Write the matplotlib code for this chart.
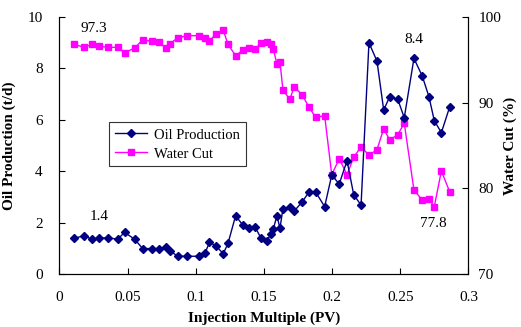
import matplotlib
matplotlib.use('Agg')
import matplotlib.pyplot as plt

plt.rcParams['font.family'] = ['Liberation Serif', 'DejaVu Serif']

pv = [0.0110, 0.0178, 0.0240, 0.0290, 0.0358, 0.0427, 0.0477, 0.0552, 0.0610, 0.0676,
      0.0732, 0.0779, 0.0807, 0.0868, 0.0937, 0.1023, 0.1069, 0.1100, 0.1147, 0.1201,
      0.1236, 0.1292, 0.1346, 0.1390, 0.1436, 0.1478, 0.1520, 0.1548, 0.1568, 0.1595,
      0.1617, 0.1639, 0.1689, 0.1722, 0.1781, 0.1830, 0.1879, 0.1945, 0.1997, 0.2052,
      0.2109, 0.2158, 0.2212, 0.2270, 0.2329, 0.2378, 0.2422, 0.2481, 0.2529, 0.2600,
      0.2661, 0.2710, 0.2749, 0.2801, 0.2862]

oil = [1.39, 1.49, 1.35, 1.39, 1.41, 1.35, 1.62, 1.35, 0.99, 0.99,
       0.99, 1.06, 0.91, 0.69, 0.69, 0.69, 0.83, 1.23, 1.10, 0.79,
       1.19, 2.27, 1.89, 1.79, 1.82, 1.39, 1.27, 1.54, 1.74, 2.27,
       1.78, 2.54, 2.62, 2.45, 2.81, 3.19, 3.19, 2.62, 3.85, 3.50,
       4.41, 3.09, 2.68, 9.00, 8.28, 6.38, 6.90, 6.80, 6.08, 8.39,
       7.70, 6.90, 5.97, 5.50, 6.50]

water_cut = [96.81, 96.46, 96.81, 96.58, 96.46, 96.46, 95.83, 96.38, 97.35, 97.16,
             97.04, 96.38, 96.85, 97.58, 97.82, 97.82, 97.51, 97.23, 97.98, 98.48,
             96.81, 95.48, 96.15, 96.38, 96.30, 96.93, 97.12, 96.81, 96.30, 94.51,
             94.78, 91.48, 90.39, 91.86, 90.89, 89.46, 88.29, 88.48, 81.59, 83.46,
             81.59, 83.62, 84.86, 83.86, 84.51, 86.96, 85.64, 86.26, 87.59, 79.80,
             78.64, 78.75, 77.86, 82.02, 79.61]

fig = plt.figure(figsize=(5.21, 3.27), dpi=100)
ax = fig.add_axes([0.1142, 0.1621, 0.785, 0.7859])
ax2 = ax.twinx()

l1, = ax.plot(pv, oil, color='#000080', marker='D', markersize=3.8, lw=1, label='Oil Production')
l2, = ax2.plot(pv, water_cut, color='#FF00FF', marker='s', markersize=4.2, lw=1, label='Water Cut')
ax.set_zorder(ax2.get_zorder() + 1)
ax.patch.set_visible(False)

ax.set_xlim(0, 0.3)
ax.set_ylim(0, 10)
ax2.set_ylim(70, 100)
ax.set_xticks([0, 0.05, 0.1, 0.15, 0.2, 0.25, 0.3])
ax.set_xticklabels(['0', '0.05', '0.1', '0.15', '0.2', '0.25', '0.3'])
ax.set_yticks([0, 2, 4, 6, 8, 10])
ax2.set_yticks([70, 80, 90, 100])

for a in (ax, ax2):
    a.spines['top'].set_visible(False)
    a.tick_params(direction='in', length=4, width=0.8, labelsize=11)
ax.tick_params(axis='x', pad=12)
ax.tick_params(axis='y', pad=12)
ax2.tick_params(axis='y', pad=7)

ax.set_xlabel('Injection Multiple (PV)', fontsize=11, fontweight='bold', labelpad=6)
ax.set_ylabel('Oil Production (t/d)', fontsize=11, fontweight='bold', labelpad=8)
ax2.set_ylabel('Water Cut (%)', fontsize=11, fontweight='bold', rotation=90, labelpad=2)

ax.text(0.0255, 9.56, '97.3', fontsize=11, ha='center', va='center')
ax.text(0.0290, 2.22, '1.4', fontsize=11, ha='center', va='center')
ax.text(0.2600, 9.14, '8.4', fontsize=11, ha='center', va='center')
ax.text(0.2740, 1.98, '77.8', fontsize=11, ha='center', va='center')

leg = ax.legend([l1, l2], ['Oil Production', 'Water Cut'], loc='upper left',
                bbox_to_anchor=(0.103, 0.618), fontsize=10.5, frameon=True,
                fancybox=False, edgecolor='black', handlelength=2.2,
                borderpad=0.4, labelspacing=0.4, handletextpad=0.5)
leg.get_frame().set_linewidth(0.8)

fig.savefig('out.png', dpi=100)
